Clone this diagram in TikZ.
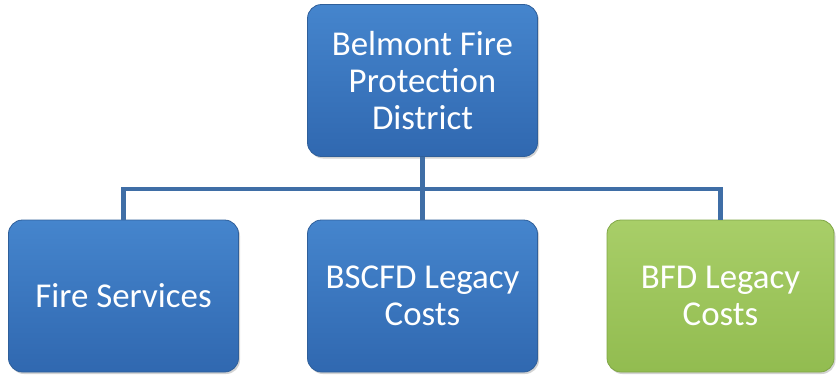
\documentclass[tikz,border=0pt]{standalone}
\usepackage{fontspec}
\setmainfont{Carlito}
\usetikzlibrary{shadows}
\definecolor{bluetop}{HTML}{4585CD}
\definecolor{bluebot}{HTML}{3068B0}
\definecolor{blueedge}{HTML}{2F5F9A}
\definecolor{greentop}{HTML}{A8CE68}
\definecolor{greenbot}{HTML}{92BC50}
\definecolor{greenedge}{HTML}{80A646}
\definecolor{linkcol}{HTML}{3F6EA6}
\tikzset{
  box/.style={rounded corners=14bp, minimum width=230bp, minimum height=152bp,
    top color=bluetop, bottom color=bluebot, draw=blueedge, line width=0.8bp,
    text=white, align=center, font=\fontsize{35}{37.5}\selectfont,
    drop shadow={shadow xshift=1.5bp, shadow yshift=-2bp, opacity=0.35}},
  greenbox/.style={box, top color=greentop, bottom color=greenbot, draw=greenedge},
  link/.style={draw=linkcol, line width=4.5bp}
}
\begin{document}
\begin{tikzpicture}[x=1bp,y=-1bp]
\useasboundingbox (0,0) rectangle (836,375);
\node[box] (top) at (422.5,80.5) {Belmont Fire\\Protection\\District};
\node[box] (a) at (123.5,296) {Fire Services};
\node[box] (b) at (422.5,296) {BSCFD Legacy\\Costs};
\node[greenbox, minimum width=227bp] (c) at (720.5,296) {BFD Legacy\\Costs};
\coordinate (j) at (422.5,189);
\draw[link] (top.south) -- (j);
\draw[link] (a.north) -- (a.north |- j) -- (c.north |- j) -- (c.north);
\draw[link] (j) -- (b.north);
\end{tikzpicture}
\end{document}
